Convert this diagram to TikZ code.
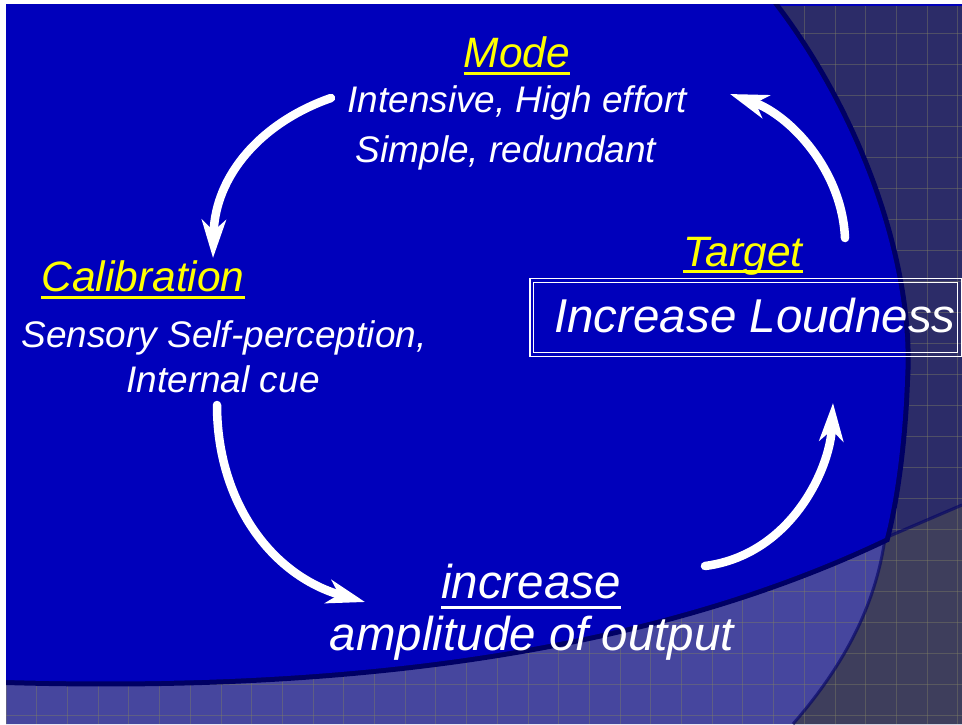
\documentclass[tikz,border=0pt]{standalone}
\usepackage{fontspec}
\setmainfont{Liberation Sans}
\usetikzlibrary{arrows.meta}

\definecolor{slideblue}{RGB}{0,0,187}
\definecolor{edgeblue}{RGB}{0,0,100}
\definecolor{duskblue}{RGB}{44,44,104}
\definecolor{bandblue}{RGB}{70,70,158}
\definecolor{slategray}{RGB}{62,62,92}
\definecolor{gridline}{RGB}{128,128,100}
\definecolor{hiyellow}{RGB}{255,255,0}

\begin{document}
\begin{tikzpicture}[x=1pt,y=-1pt,
  head/.style={font=\fontsize{42.5}{50}\selectfont\itshape, text=hiyellow, inner sep=0, anchor=base},
  body/.style={font=\fontsize{37}{44}\selectfont\itshape, text=white, inner sep=0, anchor=base},
  big/.style={font=\fontsize{47.5}{56}\selectfont\itshape, text=white, inner sep=0, anchor=base},
  yline/.style={draw=hiyellow, line width=3pt},
  wline/.style={draw=white, line width=3pt},
  frame/.style={draw=white, line width=1.5pt, inner sep=0},
  cyclearrow/.style={draw=white, line width=8.5pt, line cap=round,
    -{Stealth[length=38pt,width=24pt,inset=11pt]}},
]
\useasboundingbox (0,0) rectangle (962,724);

% backdrop: textured panels behind the main blue field
\begin{scope}
  \clip (6,4) rectangle (962,724);
  \fill[duskblue] (6,4) rectangle (962,724);
  % lighter band along the bottom
  \fill[bandblue] (6,680) .. controls (350,690) and (650,650) .. (885,538)
    -- (962,505) -- (962,724) -- (6,724) -- cycle;
  % grey panel in the lower right corner
  \fill[slategray] (885,538) .. controls (875,610) and (840,670) .. (793,724)
    -- (962,724) -- (962,505) -- cycle;
  % grid texture
  \foreach \i in {0,...,31}
    \draw[gridline, line width=0.7pt, opacity=0.42] ({6+30.7*\i},4) -- ({6+30.7*\i},724);
  \foreach \j in {1,...,23}
    \draw[gridline, line width=0.7pt, opacity=0.42] (6,{2+31*\j}) -- (962,{2+31*\j});
  % shaded seams between the panels
  \draw[edgeblue, line width=3pt, opacity=0.6] (885,538) -- (962,505);
  \draw[edgeblue, line width=3pt, opacity=0.6] (885,538) .. controls (875,610) and (840,670) .. (793,724);
  \draw[slideblue, line width=2pt] (773,5) -- (962,5);
  % main blue field with its dark rim
  \path[draw=edgeblue, line width=10pt, fill=slideblue]
    (6,4) -- (773,4)
    .. controls (862,120) and (912,270) .. (905,380)
    .. controls (903,440) and (895,500) .. (885,538)
    .. controls (650,650) and (350,690) .. (6,680) -- cycle;
  \fill[slideblue]
    (6,4) -- (773,4)
    .. controls (862,120) and (912,270) .. (905,380)
    .. controls (903,440) and (895,500) .. (885,538)
    .. controls (650,650) and (350,690) .. (6,680) -- cycle;
\end{scope}

% Mode
\node[head] (mode) at (517,67) {Mode};
\draw[yline] ([yshift=-6pt]mode.base west) -- ([yshift=-6pt]mode.base east);
\node[body] (intensive) at (517,112) {Intensive, High effort};
\node[body] (simple) at (506,162) {Simple, redundant};

% Calibration
\node[head] (calib) at (143,291) {Calibration};
\draw[yline] ([yshift=-6pt]calib.base west) -- ([yshift=-6pt]calib.base east);
\node[body] (sensory) at (224,347) {Sensory Self-perception,};
\node[body] (internal) at (223,392) {Internal cue};

% Target
\node[head] (target) at (743,266) {Target};
\draw[yline] ([yshift=-5pt]target.base west) -- ([yshift=-5pt]target.base east);
\node[frame, minimum width=431.5pt, minimum height=77.75pt] (goalouter) at (745.5,317.6) {};
\node[frame, minimum width=424.25pt, minimum height=70pt] (goalinner) at (745.4,317.5) {};
\node[big] (loud) at (755,332) {Increase Loudness};

% Output
\node[big] (incr) at (531,598) {increase};
\draw[wline] ([yshift=-9pt]incr.base west) -- ([yshift=-9pt]incr.base east);
\node[big] (ampl) at (532,650) {amplitude of output};

% ends of the cycle arrows
\coordinate (m-out) at (331,98);
\coordinate (c-in) at (213,258);
\coordinate (c-out) at (217,405);
\coordinate (o-in) at (365,602);
\coordinate (o-out) at (705,566);
\coordinate (t-in) at (833,403);
\coordinate (t-out) at (845,238);
\coordinate (m-in) at (730,94);

\draw[cyclearrow] (m-out) .. controls (262,122) and (215,175) .. (c-in);
\draw[cyclearrow] (c-out) .. controls (217,500) and (270,575) .. (o-in);
\draw[cyclearrow] (o-out) .. controls (790,555) and (830,470) .. (t-in);
\draw[cyclearrow] (t-out) .. controls (842,170) and (790,115) .. (m-in);
\end{tikzpicture}
\end{document}
